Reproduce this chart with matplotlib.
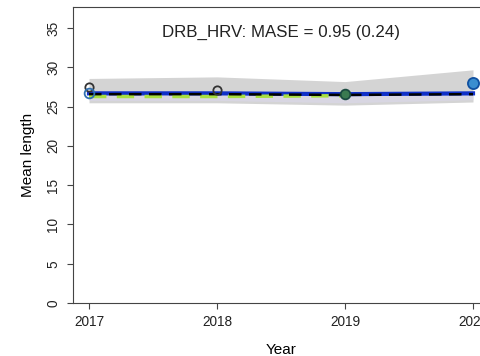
import matplotlib
matplotlib.use("Agg")
import matplotlib.pyplot as plt
import numpy as np

plt.rcParams["font.family"] = ["Liberation Sans", "DejaVu Sans"]

years = np.array([2017, 2018, 2019, 2020])
band_hi = np.array([28.6, 28.8, 28.2, 29.7])
band_lo = np.array([25.5, 25.5, 25.2, 25.6])
fit_blue = np.array([26.7, 26.7, 26.6, 26.7])
fit_black = np.array([26.6, 26.6, 26.5, 26.6])
green_years = np.array([2017, 2018, 2019])
fit_green = np.array([26.3, 26.3, 26.4])
obs_black_years = np.array([2017, 2018])
obs_black = np.array([27.5, 27.1])
obs_green_years = np.array([2019])
obs_green = np.array([26.6])
obs_blue_years = np.array([2017, 2020])
obs_blue = np.array([26.7, 28.0])

fig = plt.figure(figsize=(4.8, 3.56), dpi=100)
ax = fig.add_axes([73 / 480, 53 / 356, 416 / 480, 296 / 356])

ax.fill_between(years, band_lo, band_hi, color="#d4d4d4", lw=0)
ax.fill_between(years, band_lo + 0.3, fit_blue, color="#dcd8f0", alpha=0.5, lw=0)
ax.plot(years, fit_blue, color="#1030c8", lw=3)
ax.plot(green_years, fit_green, color="#a8e040", lw=2.5, dashes=(5, 3))
ax.plot(years, fit_black, color="black", lw=1.8, dashes=(5, 3))
ax.plot(obs_black_years, obs_black, "o", mfc="none", mec="#333333", ms=6, mew=1.3)
ax.plot(obs_green_years, obs_green, "o", mfc="#3a7a50", mec="#1a4a40", ms=7, mew=1.3)
ax.plot(obs_blue_years[:1], obs_blue[:1], "o", mfc="none", mec="#3070b0", ms=7, mew=1.3)
ax.plot(obs_blue_years[1:], obs_blue[1:], "o", mfc="#3a8ed0", mec="#1050a0", ms=8, mew=1.3)

ax.text(2018.5, 34.5, "DRB_HRV: MASE = 0.95 (0.24)", ha="center", va="center", fontsize=12.2, color="#222222")

ax.set_xlim(2016.875, 2020.125)
ax.set_ylim(0, 37.7)
ax.set_xticks(years)
ax.set_xticklabels([str(y) for y in years], fontsize=9.8)
ax.set_yticks(np.arange(0, 40, 5))
ax.set_yticklabels([str(v) for v in range(0, 40, 5)], fontsize=9.8, rotation=90, va="center")
ax.set_xlabel("Year", fontsize=11, labelpad=10)
ax.set_ylabel("Mean length", fontsize=11, labelpad=8)
for s in ax.spines.values():
    s.set_color("#444444")
ax.tick_params(colors="#444444", labelcolor="#222222", length=4, pad=5)

fig.savefig("out.png", dpi=100)
